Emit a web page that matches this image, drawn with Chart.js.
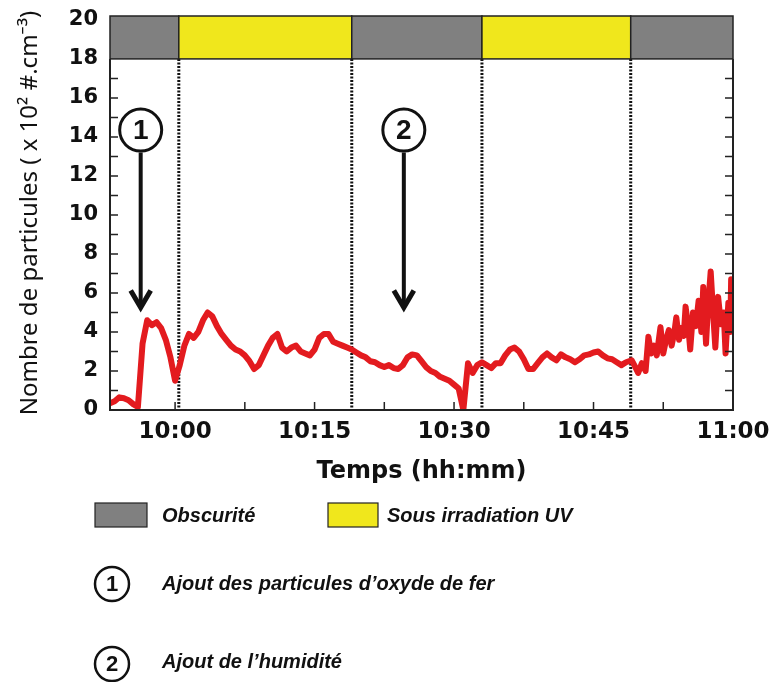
<!DOCTYPE html>
<html lang="fr">
<head>
<meta charset="utf-8">
<title>Nombre de particules</title>
<script src="https://cdn.jsdelivr.net/npm/chart.js@4.4.1/dist/chart.umd.min.js"></script>
<style>
  html, body { margin: 0; padding: 0; background: #fff; }
  #wrap { width: 772px; height: 682px; }
</style>
</head>
<body>
<div id="wrap"><canvas id="particules" width="772" height="682"></canvas></div>
<script>
// Temps en minutes par rapport à 10:00
const debutMinutes = -7;
const pasMinutes = 0.5;
// une mesure toutes les 30 s, de 9:53 à 10:48:30
const particulesRegulier = [
    0.35, 0.45, 0.65, 0.6, 0.5, 0.3, 0.15, 3.4, 4.6, 4.35,
    4.5, 4.2, 3.6, 2.7, 1.5, 2.3, 3.3, 3.9, 3.7, 4.0,
    4.6, 5.0, 4.8, 4.3, 3.9, 3.6, 3.3, 3.1, 3.0, 2.8,
    2.5, 2.1, 2.3, 2.8, 3.3, 3.7, 3.9, 3.2, 3.0, 3.2,
    3.3, 3.0, 2.9, 2.8, 3.1, 3.7, 3.9, 3.9, 3.5, 3.4,
    3.3, 3.2, 3.1, 2.95, 2.8, 2.7, 2.5, 2.45, 2.3, 2.2,
    2.3, 2.15, 2.1, 2.3, 2.7, 2.85, 2.8, 2.5, 2.2, 2.0,
    1.9, 1.7, 1.6, 1.5, 1.3, 1.1, 0.0, 2.4, 1.9, 2.3,
    2.45, 2.3, 2.15, 2.4, 2.4, 2.8, 3.1, 3.2, 3.0, 2.6,
    2.1, 2.1, 2.4, 2.7, 2.9, 2.7, 2.55, 2.85, 2.7, 2.6,
    2.45, 2.6, 2.8, 2.85, 2.95, 3.0, 2.8, 2.65, 2.6, 2.45,
    2.3, 2.45
];
// fin de l'essai, mesures plus bruitées
const finMinutes = [
    49.1, 49.5, 49.8, 50.2, 50.6, 50.9, 51.2, 51.5, 51.8, 52.2,
    52.5, 52.8, 53.1, 53.4, 53.7, 53.9, 54.2, 54.4, 54.7, 54.9,
    55.2, 55.4, 55.7, 56.0, 56.3, 56.6, 56.8, 57.1, 57.3, 57.6,
    57.9, 58.1, 58.4, 58.7, 59.0, 59.2, 59.5, 59.7, 59.8, 60
];
const finParticules = [
    2.55, 2.2, 1.9, 2.4, 2.0, 3.75, 2.9, 3.3, 2.8, 4.25,
    2.9, 3.6, 4.1, 3.3, 4.0, 4.75, 3.6, 4.2, 3.8, 5.3,
    4.2, 3.1, 5.0, 4.3, 5.6, 4.0, 6.3, 3.4, 5.2, 7.1,
    4.7, 3.2, 5.8, 4.4, 5.0, 2.9, 5.5, 4.0, 6.7, 5.8
];

const tickMinutes = [0, 7.5, 15, 22.5, 30, 37.5, 45, 52.5, 60];
const tickLabels = ['10:00', '', '10:15', '', '10:30', '', '10:45', '', '11:00'];

// périodes d'obscurité / irradiation UV
const phaseDebut = [-7, 0.4, 19, 33, 49];
const phaseFin = [0.4, 19, 33, 49, 60];
const phaseUV = [false, true, false, true, false];

// ajouts : 1 = oxyde de fer, 2 = humidité
const ajoutNumeros = ['1', '2'];
const ajoutMinutes = [-3.7, 24.6];

const GRIS = '#808080';
const JAUNE = '#f0e71c';
const ROUGE = '#e31b1f';

const points = particulesRegulier.map((v, i) => ({ x: debutMinutes + i * pasMinutes, y: v }));
finMinutes.forEach((m, i) => points.push({ x: m, y: finParticules[i] }));

function cercleNumero(ctx, x, y, r, texte, taille, epaisseur) {
    ctx.beginPath();
    ctx.arc(x, y, r, 0, Math.PI * 2);
    ctx.fillStyle = '#fff';
    ctx.fill();
    ctx.lineWidth = epaisseur;
    ctx.strokeStyle = '#111';
    ctx.stroke();
    ctx.fillStyle = '#111';
    ctx.font = 'bold ' + taille + 'px "Liberation Sans", Arial, sans-serif';
    ctx.textAlign = 'center';
    ctx.textBaseline = 'middle';
    ctx.fillText(texte, x, y + 1);
}

const cadre = {
    id: 'cadre',
    beforeDatasetsDraw(chart) {
        const { ctx, scales: { x, y } } = chart;
        ctx.save();
        ctx.strokeStyle = '#111';
        ctx.lineWidth = 3;
        ctx.setLineDash([2, 1.5]);
        for (let i = 1; i < phaseDebut.length; i++) {
            const px = x.getPixelForValue(phaseDebut[i]);
            ctx.beginPath();
            ctx.moveTo(px, y.getPixelForValue(18));
            ctx.lineTo(px, y.getPixelForValue(0));
            ctx.stroke();
        }
        ctx.restore();
    },
    afterDatasetsDraw(chart) {
        const { ctx, scales: { x, y } } = chart;
        const gauche = x.getPixelForValue(x.min);
        const droite = x.getPixelForValue(x.max);
        const bas = y.getPixelForValue(0);
        const haut = y.getPixelForValue(18);
        ctx.save();

        // bandeau obscurité / UV
        phaseDebut.forEach((d, i) => {
            const x0 = x.getPixelForValue(d);
            const x1 = x.getPixelForValue(phaseFin[i]);
            const y0 = y.getPixelForValue(y.max);
            ctx.fillStyle = phaseUV[i] ? JAUNE : GRIS;
            ctx.fillRect(x0, y0, x1 - x0, haut - y0);
            ctx.lineWidth = 1.5;
            ctx.strokeStyle = '#222';
            ctx.strokeRect(x0, y0, x1 - x0, haut - y0);
        });

        // axes
        ctx.strokeStyle = '#222';
        ctx.lineWidth = 2;
        ctx.beginPath();
        ctx.moveTo(gauche, haut);
        ctx.lineTo(gauche, bas);
        ctx.lineTo(droite, bas);
        ctx.lineTo(droite, haut);
        ctx.stroke();

        // graduations vers l'intérieur
        ctx.lineWidth = 1.5;
        ctx.beginPath();
        for (let v = 1; v < 18; v++) {
            const py = y.getPixelForValue(v);
            ctx.moveTo(gauche, py);
            ctx.lineTo(gauche + 8, py);
            ctx.moveTo(droite, py);
            ctx.lineTo(droite - 8, py);
        }
        tickMinutes.slice(0, -1).forEach(m => {
            const px = x.getPixelForValue(m);
            ctx.moveTo(px, bas);
            ctx.lineTo(px, bas - 8);
        });
        ctx.stroke();

        // flèches des ajouts
        ajoutMinutes.forEach((m, i) => {
            const px = x.getPixelForValue(m);
            const pointe = y.getPixelForValue(5.1);
            ctx.strokeStyle = '#111';
            ctx.lineWidth = 4;
            ctx.beginPath();
            ctx.moveTo(px, y.getPixelForValue(13.2));
            ctx.lineTo(px, pointe - 3);
            ctx.stroke();
            ctx.lineWidth = 5;
            ctx.lineJoin = 'miter';
            ctx.beginPath();
            ctx.moveTo(px - 10, pointe - 20);
            ctx.lineTo(px, pointe - 3);
            ctx.lineTo(px + 10, pointe - 20);
            ctx.stroke();
            cercleNumero(ctx, px, y.getPixelForValue(14.35), 21, ajoutNumeros[i], 28, 3);
        });
        ctx.restore();
    },
    afterDraw(chart) {
        const { ctx } = chart;
        ctx.save();
        ctx.lineWidth = 1.2;
        ctx.strokeStyle = '#222';
        ctx.fillStyle = GRIS;
        ctx.fillRect(95, 503, 52, 24);
        ctx.strokeRect(95, 503, 52, 24);
        ctx.fillStyle = JAUNE;
        ctx.fillRect(328, 503, 50, 24);
        ctx.strokeRect(328, 503, 50, 24);

        ctx.fillStyle = '#111';
        ctx.font = 'italic bold 20px "Liberation Sans", Arial, sans-serif';
        ctx.textAlign = 'left';
        ctx.textBaseline = 'middle';
        ctx.fillText('Obscurité', 162, 516);
        ctx.fillText('Sous irradiation UV', 387, 516);
        ctx.fillText('Ajout des particules d’oxyde de fer', 162, 584);
        ctx.fillText('Ajout de l’humidité', 162, 662);

        cercleNumero(ctx, 112, 584, 17, '1', 22, 2.5);
        cercleNumero(ctx, 112, 664, 17, '2', 22, 2.5);
        ctx.restore();
    }
};

new Chart(document.getElementById('particules'), {
    type: 'line',
    data: {
        datasets: [{
            data: points,
            borderColor: ROUGE,
            borderWidth: 6,
            borderJoinStyle: 'round',
            pointRadius: 0,
            tension: 0,
            fill: false
        }]
    },
    options: {
        responsive: false,
        animation: false,
        events: [],
        layout: { padding: { top: 16, right: 39, bottom: 196, left: 0 } },
        plugins: {
            legend: { display: false },
            tooltip: { enabled: false }
        },
        scales: {
            x: {
                type: 'linear',
                min: -7,
                max: 60,
                afterBuildTicks: s => { s.ticks = tickMinutes.map(v => ({ value: v })); },
                afterFit: s => { s.height = 76; s.paddingLeft = 0; s.paddingRight = 0; },
                grid: { display: false, drawTicks: false },
                border: { display: false },
                ticks: {
                    autoSkip: false,
                    maxRotation: 0,
                    padding: 8,
                    color: '#111',
                    font: { family: '"DejaVu Sans", sans-serif', weight: 'bold', size: 23 },
                    callback: (v, i) => tickLabels[i]
                },
                title: {
                    display: true,
                    text: 'Temps (hh:mm)',
                    color: '#111',
                    padding: 0,
                    font: { family: '"DejaVu Sans", sans-serif', weight: 'bold', size: 24 }
                }
            },
            y: {
                min: 0,
                max: 20.2,
                afterBuildTicks: s => {
                    s.ticks = [];
                    for (let v = 0; v <= 20; v += 2) s.ticks.push({ value: v });
                },
                afterFit: s => { s.width = 110; s.paddingTop = 0; s.paddingBottom = 0; },
                grid: { display: false, drawTicks: false },
                border: { display: false },
                ticks: {
                    autoSkip: false,
                    padding: 12,
                    color: '#111',
                    font: { family: '"DejaVu Sans", sans-serif', weight: 'bold', size: 21 }
                },
                title: {
                    display: true,
                    text: 'Nombre de particules ( x 10² #.cm⁻³)',
                    color: '#111',
                    padding: { top: 16, bottom: 0 },
                    font: { family: '"Noto Sans", sans-serif', size: 24 }
                }
            }
        }
    },
    plugins: [cadre]
});
</script>
</body>
</html>
